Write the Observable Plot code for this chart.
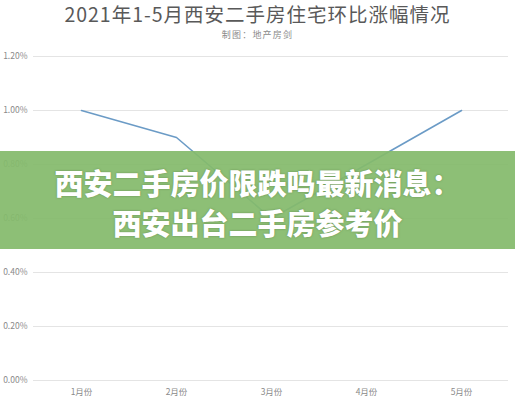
<!DOCTYPE html>
<html>
<head>
<meta charset="utf-8">
<script src="https://cdn.jsdelivr.net/npm/d3@7"></script>
<script src="https://cdn.jsdelivr.net/npm/@observablehq/plot@0.6"></script>
<style>
  html, body { margin: 0; padding: 0; background: #fff; }
  #wrap { position: relative; width: 515px; height: 400px; overflow: hidden; font-family: "Noto Sans CJK SC", "Noto Sans", sans-serif; }
  #title { position: absolute; left: 0; top: 1px; width: 515px; text-align: center; font-size: 19.5px; letter-spacing: 1px; color: #595959; line-height: 26px; }
  #sub { position: absolute; left: 0; top: 28px; width: 515px; text-align: center; font-size: 9px; letter-spacing: 1.2px; color: #8a8a8a; line-height: 13px; }
  #chart { position: absolute; left: 0; top: 0; }
  #banner { position: absolute; left: 0; top: 151px; width: 515px; height: 98px; background: rgba(132, 186, 108, 0.93); }
  #btext { position: absolute; left: 0; top: 162px; width: 515px; text-align: center; color: #fff; font-size: 29px; font-weight: 900; line-height: 40px; text-shadow: 0 0 2px rgba(60,90,40,0.5); }
</style>
</head>
<body>
<div id="wrap">
  <div id="chart"></div>
  <div id="title">2021年1-5月西安二手房住宅环比涨幅情况</div>
  <div id="sub">制图：地产房剑</div>
  <div id="banner"></div>
  <div id="btext">西安二手房价限跌吗最新消息：<br>西安出台二手房参考价</div>
</div>
<script>
const months = ["1月份", "2月份", "3月份", "4月份", "5月份"];
const values = [1.00, 0.90, 0.60, 0.80, 1.00];
const yTicks = [0, 0.2, 0.4, 0.6, 0.8, 1.0, 1.2];

const data = months.map((m, i) => ({month: m, value: values[i]}));

const chart = Plot.plot({
  width: 515,
  height: 400,
  marginTop: 56,
  marginBottom: 20,
  marginLeft: 33,
  marginRight: 7,
  style: {fontFamily: "'Noto Sans CJK SC', 'Noto Sans', sans-serif", background: "transparent"},
  x: {type: "point", domain: months, padding: 0.5},
  y: {domain: [0, 1.2]},
  marks: [
    Plot.ruleY(yTicks, {stroke: "#e4e4e4", strokeWidth: 1}),
    Plot.axisY({ticks: yTicks, tickSize: 0, tickPadding: 6, tickFormat: d => d.toFixed(2) + "%", fontSize: 8.5, fill: "#8a8a8a", label: null}),
    Plot.axisX({tickSize: 0, tickPadding: 8, fontSize: 8.5, fill: "#8a8a8a", label: null}),
    Plot.line(data, {x: "month", y: "value", stroke: "#6b9bc6", strokeWidth: 1.6})
  ]
});
document.getElementById("chart").appendChild(chart);
</script>
</body>
</html>
